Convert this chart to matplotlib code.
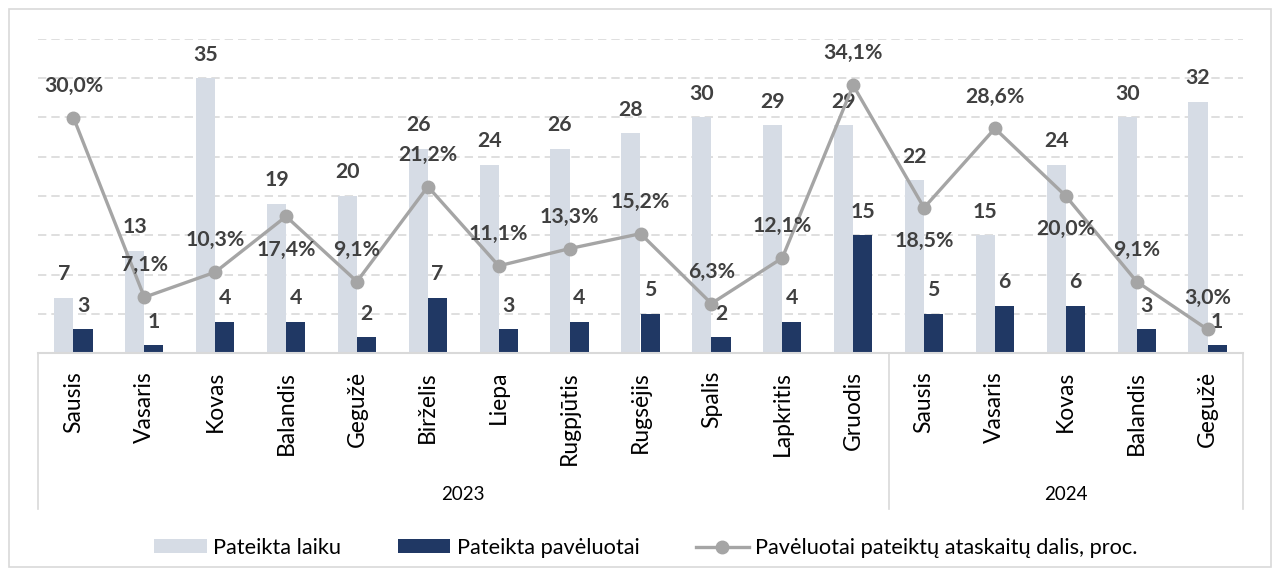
import matplotlib
matplotlib.use("Agg")
import matplotlib.pyplot as plt
import matplotlib.transforms as mtransforms
from matplotlib.patches import Patch, Rectangle
from matplotlib.lines import Line2D
import numpy as np

plt.rcParams['font.family'] = ['Lato', 'DejaVu Sans']

months = ["Sausis", "Vasaris", "Kovas", "Balandis", "Gegužė", "Birželis", "Liepa",
          "Rugpjūtis", "Rugsėjis", "Spalis", "Lapkritis", "Gruodis",
          "Sausis", "Vasaris", "Kovas", "Balandis", "Gegužė"]
years = ["2023", "2024"]
year_counts = [12, 5]
on_time = [7, 13, 35, 19, 20, 26, 24, 26, 28, 30, 29, 29, 22, 15, 24, 30, 32]
late = [3, 1, 4, 4, 2, 7, 3, 4, 5, 2, 4, 15, 5, 6, 6, 3, 1]
late_pct = [30.0, 7.1, 10.3, 17.4, 9.1, 21.2, 11.1, 13.3, 15.2, 6.3, 12.1, 34.1,
            18.5, 28.6, 20.0, 9.1, 3.0]
pct_below = [3, 12, 14]

series_names = ["Pateikta laiku", "Pateikta pavėluotai",
                "Pavėluotai pateiktų ataskaitų dalis, proc."]

c_light = "#D6DCE5"
c_dark = "#203864"
c_line = "#A5A5A5"
c_text = "#404040"

W, H = 1273, 576
fig = plt.figure(figsize=(W / 100, H / 100), dpi=100)
fig.patch.set_facecolor("white")

# outer border
fig.add_artist(Rectangle((9 / W, 1 - 567 / H), (1271 - 9) / W, (567 - 9) / H,
                         transform=fig.transFigure, fill=False,
                         edgecolor="#D9D9D9", linewidth=1.2))

left, right = 38 / W, 1243 / W
bottom, top = 1 - 353 / H, 1 - 39 / H
ax = fig.add_axes([left, bottom, right - left, top - bottom])
ax2 = ax.twinx()

n = len(months)
x = np.arange(n)
bw = 0.27

ax.bar(x - bw / 2, on_time, bw, color=c_light, zorder=2)
ax.bar(x + bw / 2, late, bw, color=c_dark, zorder=2)
ax.set_xlim(-0.5, n - 0.5)
ax.set_ylim(0, 40)
ax.set_yticks(np.arange(5, 41, 5))
ax.yaxis.grid(True, color="#D9D9D9", linestyle=(0, (5, 3)), linewidth=1.2, zorder=0)
ax.set_axisbelow(True)
ax.tick_params(left=False, labelleft=False, bottom=False, labelbottom=False)
for s in ["top", "right", "left"]:
    ax.spines[s].set_visible(False)
ax.spines["bottom"].set_color("#D9D9D9")
ax.spines["bottom"].set_linewidth(1.5)

ax2.plot(x, late_pct, color=c_line, linewidth=2.4, marker="o", markersize=9,
         zorder=5)
ax2.set_ylim(0, 40)
ax2.axis("off")
ax.set_zorder(1)
ax2.set_zorder(2)

fs_val = 15.3
for i in range(n):
    ax.annotate(str(on_time[i]), (x[i] - bw / 2, on_time[i]), xytext=(0, 17),
                textcoords="offset points", ha="center", va="center",
                fontsize=fs_val, fontweight="bold", color=c_text, zorder=6)
    ax.annotate(str(late[i]), (x[i] + bw / 2, late[i]), xytext=(0, 17),
                textcoords="offset points", ha="center", va="center",
                fontsize=fs_val, fontweight="bold", color=c_text, zorder=6)
    dy = -24 if i in pct_below else 23
    ax2.annotate(f"{late_pct[i]:.1f}%".replace(".", ","), (x[i], late_pct[i]),
                 xytext=(0, dy), textcoords="offset points", ha="center",
                 va="center", fontsize=fs_val, fontweight="bold", color=c_text,
                 zorder=7)

# category axis (month + year)
trans = mtransforms.blended_transform_factory(ax.transData, fig.transFigure)
for i, m in enumerate(months):
    ax.text(x[i], 1 - 371 / H, m, rotation=90, ha="center", va="top",
            transform=trans, fontsize=16.5, color="black", clip_on=False)

ysep_top, ysep_bot = 1 - 353 / H, 1 - 509 / H
start = -0.5
seps = [start]
for yname, cnt in zip(years, year_counts):
    end = start + cnt
    ax.text((start + end) / 2, 1 - 494 / H, yname, ha="center", va="center",
            transform=trans, fontsize=13.5, color="black", clip_on=False)
    seps.append(end)
    start = end
for sx in seps:
    ax.add_line(Line2D([sx, sx], [ysep_top, ysep_bot], transform=trans,
                       color="#D9D9D9", linewidth=1.2, clip_on=False))

handles = [Patch(facecolor=c_light, edgecolor="none"),
           Patch(facecolor=c_dark, edgecolor="none"),
           Line2D([], [], color=c_line, linewidth=2.4, marker="o", markersize=9)]
fig.legend(handles, series_names, loc="center", bbox_to_anchor=(646 / W, 1 - 548 / H),
           ncol=3, frameon=False, fontsize=15.7, handlelength=2.4, handleheight=0.6,
           handletextpad=0.3, columnspacing=2.6)

fig.savefig("out.png", dpi=100, facecolor="white")
